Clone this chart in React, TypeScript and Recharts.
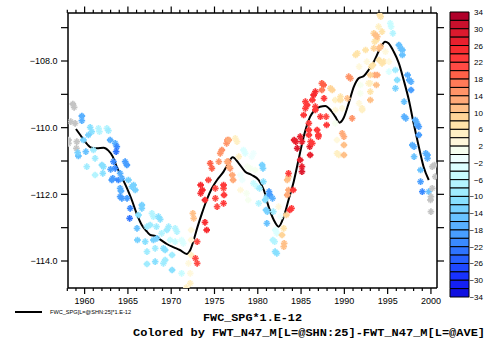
import React from 'react';
import { ComposedChart, Scatter, Line, XAxis, YAxis, ReferenceArea } from 'recharts';

// ---- smoothed series (black line) ----
const lineYears = [
  1959.0, 1959.5, 1960.05, 1960.7, 1961.4, 1962.2, 1962.75, 1963.25, 1963.7, 1964.3,
  1964.9, 1965.45, 1966.0, 1966.6, 1967.2, 1967.6, 1968.15, 1968.7, 1969.5, 1970.3,
  1971.0, 1971.8, 1972.2, 1972.6, 1973.05, 1973.55, 1974.1, 1974.7, 1975.3, 1976.05,
  1976.5, 1977.1, 1977.8, 1978.55, 1979.3, 1980.1, 1980.7, 1981.25, 1981.85, 1982.4,
  1983.0, 1983.55, 1984.15, 1984.7, 1985.3, 1986.05, 1986.6, 1987.2, 1987.8, 1988.4,
  1988.95, 1989.45, 1989.9, 1990.5, 1991.1, 1991.65, 1992.25, 1992.8, 1993.4, 1994.15,
  1994.7, 1995.1, 1995.7, 1996.3, 1996.85, 1997.45, 1998.0, 1998.6, 1999.15, 1999.75,
];
const lineValues = [
  -110.04, -110.22, -110.42, -110.59, -110.62, -110.6, -110.69, -110.87, -111.17, -111.49,
  -111.82, -112.17, -112.57, -112.92, -113.12, -113.22, -113.25, -113.35, -113.49, -113.59,
  -113.67, -113.79, -113.67, -113.37, -112.97, -112.57, -112.17, -111.82, -111.57, -111.32,
  -111.12, -110.89, -111.07, -111.32, -111.42, -111.57, -111.87, -112.37, -112.77, -112.97,
  -112.67, -112.17, -111.62, -110.97, -110.27, -109.67, -109.47, -109.37, -109.35, -109.47,
  -109.67, -109.85, -109.72, -109.27, -108.77, -108.52, -108.45, -108.27, -108.02, -107.62,
  -107.42, -107.47, -107.72, -108.07, -108.57, -109.17, -109.87, -110.57, -111.17, -111.57,
];

// ---- scattered points: [year, value, colour variable (null = missing)] ----
type Pt = [number, number, number | null];
const points1958to1967: Pt[] = [
  [1958.64, -109.29, null], [1958.79, -109.39, null], [1958.4, -109.82, null], [1958.9, -109.87, null],
  [1958.13, -110.37, null], [1958.13, -110.47, null], [1959.1, -110.42, null], [1959.05, -110.62, null],
  [1959.68, -109.65, -16], [1959.68, -109.79, -16], [1960.64, -109.99, -10], [1960.83, -110.12, -10],
  [1961.6, -110.02, -6], [1961.71, -110.12, -6], [1962.57, -110.02, -6], [1962.75, -110.09, -8],
  [1960.44, -110.22, -12], [1959.86, -110.37, -12], [1960.14, -110.72, -14], [1959.28, -110.85, -14],
  [1959.2, -110.75, -12], [1961.02, -110.67, -8], [1961.21, -110.92, -8], [1960.25, -111.17, -8],
  [1961.21, -111.42, -6], [1962.17, -111.17, -10], [1962.1, -111.37, -10], [1962.0, -111.12, -10],
  [1962.95, -110.37, -16], [1963.53, -110.47, -16], [1963.72, -110.57, -20], [1963.64, -110.72, -22],
  [1963.33, -111.02, -20], [1963.53, -111.22, -20], [1963.14, -111.57, -18], [1963.0, -111.25, -18],
  [1963.25, -111.52, -18], [1963.9, -111.57, -20], [1964.68, -111.02, -18], [1964.88, -111.12, -18],
  [1964.1, -111.37, -16], [1964.3, -111.52, -16], [1964.1, -111.82, -16], [1964.2, -111.9, -16],
  [1965.06, -111.57, -12], [1965.46, -111.77, -12], [1965.65, -111.72, -12], [1965.85, -111.87, -12],
  [1964.1, -112.07, -18], [1964.3, -112.12, -18], [1964.9, -112.12, -18], [1965.26, -112.42, -20],
  [1965.2, -112.72, -22], [1966.61, -112.32, -12], [1966.61, -112.42, -12], [1966.22, -112.62, -10],
  [1966.05, -113.02, -14], [1966.1, -113.37, -12], [1967.0, -113.42, -10], [1967.2, -113.72, -8],
  [1967.2, -114.09, -8],
];
const points1967to1976: Pt[] = [
  [1967.77, -112.57, -6], [1967.95, -112.67, -6], [1968.53, -112.67, -10], [1968.73, -112.75, -10],
  [1967.19, -112.97, -8], [1967.57, -112.92, -8], [1968.3, -112.97, -8], [1968.9, -113.17, -6],
  [1969.5, -113.07, -8], [1969.7, -112.97, -8], [1970.46, -113.02, -6], [1970.66, -113.12, -6],
  [1967.95, -113.37, -12], [1968.35, -113.32, -12], [1968.15, -113.62, -8], [1969.1, -113.62, -10],
  [1969.3, -113.67, -10], [1969.88, -113.37, -4], [1970.1, -113.82, -8], [1970.46, -113.42, -4],
  [1971.2, -113.37, -2], [1971.4, -113.47, -2], [1968.15, -114.02, -10], [1969.1, -114.07, -8],
  [1969.3, -113.97, -8], [1970.1, -114.27, -10], [1971.2, -114.37, -4], [1972.0, -114.07, 4],
  [1972.2, -114.37, 4], [1972.2, -114.67, 6], [1971.75, -114.8, 6], [1972.3, -113.82, 6],
  [1972.5, -112.57, 12], [1972.6, -112.72, 12], [1972.3, -113.07, 4], [1972.3, -113.37, 4],
  [1973.0, -113.42, 22], [1972.8, -113.92, 22], [1973.0, -114.07, 22], [1973.4, -111.72, 26],
  [1973.6, -111.87, 26], [1973.4, -111.97, 26], [1973.9, -112.17, 26], [1973.9, -112.84, 26],
  [1974.1, -113.07, 26], [1974.3, -111.57, 22], [1974.5, -111.07, 20], [1974.7, -111.22, 20],
  [1975.1, -111.82, 22], [1975.1, -112.12, 22], [1975.3, -112.37, 22], [1975.5, -111.02, 16],
  [1975.66, -110.77, 16], [1975.85, -110.67, 16], [1976.05, -111.82, 22], [1976.4, -110.47, 16],
  [1976.5, -110.37, 16], [1976.6, -111.02, 16], [1976.8, -111.22, 16],
];
const points1976to1986: Pt[] = [
  [1976.05, -111.72, 24], [1976.1, -112.02, 24], [1976.05, -112.27, 24], [1976.45, -111.02, 14],
  [1976.65, -111.17, 14], [1976.65, -110.37, 14], [1977.05, -111.42, 14], [1977.15, -111.57, 14],
  [1977.4, -110.32, 6], [1977.6, -110.42, 6], [1977.8, -110.87, 6], [1978.35, -110.67, -2],
  [1978.55, -110.77, -2], [1978.0, -111.42, 0], [1978.2, -111.57, 0], [1978.8, -111.17, 2],
  [1979.13, -111.22, 2], [1978.0, -111.87, 4], [1979.3, -110.87, 0], [1979.5, -110.77, 0],
  [1978.7, -111.97, 2], [1978.9, -112.17, 2], [1979.7, -111.27, 2], [1979.5, -111.67, -4],
  [1979.9, -111.77, -4], [1980.5, -111.12, -12], [1980.6, -111.22, -12], [1980.1, -112.27, -6],
  [1980.2, -111.82, -8], [1980.65, -111.62, -10], [1980.85, -112.17, -10], [1981.05, -112.07, -10],
  [1981.3, -111.92, -18], [1981.4, -112.02, -18], [1980.95, -112.47, -12], [1981.1, -112.52, -12],
  [1981.7, -112.12, -16], [1981.8, -112.52, -8], [1981.05, -112.87, -14], [1982.02, -113.07, -2],
  [1982.2, -113.17, -2], [1982.4, -112.37, 4], [1982.6, -112.67, 0], [1981.75, -113.37, -6],
  [1981.95, -113.42, -6], [1982.2, -113.77, -10], [1982.0, -113.72, -10], [1982.8, -113.22, 10],
  [1983.05, -113.47, 12], [1983.0, -113.57, 12], [1983.0, -113.02, 8], [1983.3, -112.62, 10],
  [1983.4, -112.02, 14], [1983.55, -111.87, 14], [1983.4, -111.57, 12], [1983.55, -111.47, 12],
  [1983.55, -111.37, 24], [1983.7, -112.47, 24], [1983.9, -112.42, 24], [1984.1, -111.87, 24],
  [1984.2, -110.37, 28], [1984.4, -110.42, 28], [1984.55, -110.62, 30], [1984.9, -110.27, 28],
  [1985.1, -110.42, 28], [1984.9, -110.97, 28], [1985.1, -111.17, 28], [1985.1, -111.32, 30],
  [1985.3, -109.62, 24], [1985.5, -109.22, 24], [1985.7, -109.32, 24], [1985.9, -110.07, 24],
  [1986.0, -110.57, 28], [1986.05, -110.82, 28],
];
const points1985to1994: Pt[] = [
  [1985.5, -109.42, 24], [1985.9, -109.87, 24], [1985.9, -110.22, 24], [1986.1, -110.42, 24],
  [1986.3, -110.47, 24], [1986.3, -109.17, 24], [1986.65, -108.92, 26], [1986.45, -109.02, 26],
  [1986.65, -109.37, 24], [1986.65, -109.47, 24], [1986.85, -110.07, 24], [1987.0, -110.22, 24],
  [1987.0, -110.27, 24], [1987.23, -109.67, 24], [1987.4, -108.67, 20], [1987.6, -108.72, 20],
  [1987.4, -108.87, 18], [1987.65, -109.12, 24], [1987.9, -109.67, 22], [1987.95, -109.92, 24],
  [1988.4, -108.82, 10], [1988.6, -108.87, 10], [1988.95, -109.17, 6], [1988.95, -109.47, 4],
  [1988.95, -109.87, 2], [1989.15, -110.37, 4], [1989.15, -110.77, 6], [1989.35, -110.82, 6],
  [1989.55, -109.07, 8], [1989.54, -109.17, 8], [1989.75, -109.42, 4], [1989.75, -110.17, 14],
  [1989.95, -110.27, 14], [1989.95, -110.52, 12], [1989.95, -110.82, 12], [1990.35, -109.12, 12],
  [1990.5, -108.47, 16], [1990.7, -108.52, 16], [1990.9, -109.72, 16], [1991.3, -107.82, 8],
  [1991.5, -107.77, 8], [1991.7, -108.17, 4], [1991.85, -108.72, 2], [1991.85, -108.97, 2],
  [1991.7, -109.27, 4], [1992.05, -109.42, 6], [1992.05, -109.47, 6], [1992.45, -107.67, 8],
  [1992.6, -108.02, 4], [1992.8, -108.67, 6], [1993.0, -108.67, 6], [1993.3, -108.12, 8],
  [1993.1, -108.17, 8], [1993.4, -107.17, 10], [1993.5, -107.42, 8], [1993.7, -107.37, 8],
  [1993.5, -108.42, 14], [1993.8, -108.42, 14], [1993.7, -108.72, 12], [1993.0, -108.92, 8],
  [1993.0, -109.17, 12],
];
const points1993to2000: Pt[] = [
  [1994.2, -106.67, 8], [1994.1, -106.62, 8], [1993.95, -106.97, 6], [1994.35, -107.12, 8],
  [1995.3, -106.87, -4], [1995.4, -106.97, -4], [1995.6, -107.17, -6], [1993.6, -107.22, 12],
  [1993.8, -107.27, 12], [1993.4, -107.62, 10], [1994.2, -107.57, 12], [1994.0, -107.62, 12],
  [1994.75, -107.72, 4], [1994.0, -107.97, 8], [1994.55, -108.02, 8], [1994.35, -108.07, 8],
  [1995.15, -108.02, 4], [1995.15, -108.32, -2], [1993.0, -108.42, 10], [1996.3, -107.52, -14],
  [1996.5, -107.62, -14], [1996.7, -107.67, -14], [1996.7, -107.82, -14], [1995.9, -108.27, -8],
  [1996.1, -108.57, -10], [1995.9, -108.82, -12], [1997.3, -108.42, -16], [1997.5, -108.57, -16],
  [1997.7, -108.62, -16], [1997.7, -108.87, -18], [1996.9, -109.22, -14], [1996.9, -109.67, -16],
  [1997.1, -109.72, -16], [1998.2, -109.77, -16], [1998.4, -109.87, -16], [1998.4, -109.92, -16],
  [1998.6, -109.97, -18], [1998.6, -110.22, -18], [1997.85, -110.52, -16], [1998.05, -110.57, -16],
  [1998.05, -110.87, -14], [1999.4, -110.77, -16], [1999.6, -110.82, -16], [1999.6, -110.92, -16],
  [1998.8, -111.27, -14], [1998.8, -111.62, -18], [1999.0, -111.92, -20], [1999.75, -111.92, -14],
  [2000.15, -111.17, null], [2000.4, -111.12, null], [2000.5, -111.47, null], [2000.0, -112.07, null],
  [1999.95, -112.17, null], [2000.15, -111.82, null], [2000.0, -112.52, null],
];

// ---- axes ----
const yearTicks = [
  1958, 1959, 1960, 1961, 1962, 1963, 1964, 1965, 1966, 1967, 1968, 1969, 1970, 1971, 1972,
  1973, 1974, 1975, 1976, 1977, 1978, 1979, 1980, 1981, 1982, 1983, 1984, 1985, 1986, 1987,
  1988, 1989, 1990, 1991, 1992, 1993, 1994, 1995, 1996, 1997, 1998, 1999, 2000,
];
const valueTicks = [-107, -108, -109, -110, -111, -112, -113, -114];

// ---- colour bar ----
const colorbarTops = [
  34, 32, 30, 28, 26, 24, 22, 20, 18, 16, 14, 12, 10, 8, 6, 4, 2,
  0, -2, -4, -6, -8, -10, -12, -14, -16, -18, -20, -22, -24, -26, -28, -30, -32,
];
const colorbarColors = [
  '#b0002a', '#c8102c', '#dc1a2e', '#e8202e', '#f82c30', '#ff3a3a', '#ff4a44', '#ff6048',
  '#ff7a58', '#ff9468', '#ffaa78', '#ffc088', '#ffd498', '#ffe4aa', '#fff0c4', '#fff8dc',
  '#f6fff0', '#eefffe', '#dcffff', '#c8fcff', '#b4f4ff', '#a0ecff', '#88e0ff', '#78d2ff',
  '#68c2ff', '#58b0ff', '#489eff', '#3a8aff', '#2e74ff', '#2660ff', '#1e48ff', '#1832ff',
  '#1420f4', '#1010e0',
];
const colorbarTicks = [34, 30, 26, 22, 18, 14, 10, 6, 2, -2, -6, -10, -14, -18, -22, -26, -30, -34];

const X_DOMAIN: [number, number] = [1958.08, 2000.7];
const Y_DOMAIN: [number, number] = [-114.81, -106.56];
const FONT = '"Liberation Sans", Arial, Helvetica, sans-serif';
const MONO = '"Liberation Mono", "Courier New", monospace';

function anomalyColor(c: number | null): string {
  if (c === null) return '#c4c4c4';
  let i = Math.floor((34 - c) / 2);
  if (i < 0) i = 0;
  if (i > 33) i = 33;
  return colorbarColors[i];
}

const lineData = lineYears.map((x, i) => ({ x, y: lineValues[i] }));
const scatterData = [
  ...points1958to1967,
  ...points1967to1976,
  ...points1976to1986,
  ...points1985to1994,
  ...points1993to2000,
].map(([x, y, c]) => ({ x, y, c }));

const fmtMinus = (v: number, digits: number) =>
  (v < 0 ? '\u2212' : '') + Math.abs(v).toFixed(digits);

const StarMarker = (props: any) => {
  const { cx, cy, payload } = props;
  if (cx == null || cy == null) return null;
  const col = anomalyColor(payload.c);
  return (
    <g stroke={col} strokeLinecap="square">
      <path d={`M${cx - 2.4},${cy}H${cx + 2.4}M${cx},${cy - 2.4}V${cy + 2.4}`} strokeWidth={1.8} />
      <path d={`M${cx - 1.8},${cy - 1.8}L${cx + 1.8},${cy + 1.8}M${cx - 1.8},${cy + 1.8}L${cx + 1.8},${cy - 1.8}`} strokeWidth={1.3} />
    </g>
  );
};

const BottomTick = (props: any) => {
  const { x, y, payload } = props;
  const v = payload.value;
  const major = v % 5 === 0;
  return (
    <g>
      <line x1={x} x2={x} y1={y} y2={y + (major ? 6 : 3)} stroke="#000" strokeWidth={1.2} />
      {major && (
        <text x={x} y={y + 16} textAnchor="middle" fontSize={9} fontFamily={FONT} fill="#000">
          {v}
        </text>
      )}
    </g>
  );
};

const TopTick = (props: any) => {
  const { x, y, payload } = props;
  const major = payload.value % 5 === 0;
  return <line x1={x} x2={x} y1={y} y2={y - (major ? 6.5 : 3.3)} stroke="#000" strokeWidth={1.2} />;
};

const LeftTick = (props: any) => {
  const { x, y, payload } = props;
  const v = payload.value;
  const labelled = v % 2 === 0;
  return (
    <g>
      <line x1={x - 7} x2={x} y1={y} y2={y} stroke="#000" strokeWidth={1.2} />
      {labelled && (
        <text x={x - 10.5} y={y + 3.2} textAnchor="end" fontSize={9} fontFamily={FONT} fill="#000">
          {fmtMinus(v, 1)}
        </text>
      )}
    </g>
  );
};

const RightTick = (props: any) => {
  const { x, y } = props;
  return <line x1={x} x2={x + 7} y1={y} y2={y} stroke="#000" strokeWidth={1.2} />;
};

const ColorbarTick = (props: any) => {
  const { x, y, payload } = props;
  return (
    <text x={x + 14} y={y + 3} textAnchor="end" fontSize={8} fontFamily={FONT} fill="#000">
      {fmtMinus(payload.value, 0)}
    </text>
  );
};

export default function App() {
  const axisLine = { stroke: '#000', strokeWidth: 1.5 };
  return (
    <div style={{ position: 'absolute', left: 0, top: 0, width: 486, height: 343, background: '#fff' }}>
      <div style={{ position: 'absolute', left: 0, top: 0 }}>
        <ComposedChart
          width={486}
          height={343}
          margin={{ top: 5, right: 42, bottom: 25, left: 8 }}
        >
          <XAxis
            xAxisId="bottom"
            type="number"
            dataKey="x"
            domain={X_DOMAIN}
            allowDataOverflow
            ticks={yearTicks}
            interval={0}
            height={30}
            tickSize={0}
            tickMargin={0}
            tickLine={false}
            axisLine={axisLine}
            tick={<BottomTick />}
          />
          <XAxis
            xAxisId="top"
            orientation="top"
            type="number"
            dataKey="x"
            domain={X_DOMAIN}
            allowDataOverflow
            ticks={yearTicks}
            interval={0}
            height={8}
            tickSize={0}
            tickMargin={0}
            tickLine={false}
            axisLine={axisLine}
            tick={<TopTick />}
          />
          <YAxis
            yAxisId="left"
            type="number"
            dataKey="y"
            domain={Y_DOMAIN}
            allowDataOverflow
            ticks={valueTicks}
            interval={0}
            width={60}
            tickSize={0}
            tickMargin={0}
            tickLine={false}
            axisLine={axisLine}
            tick={<LeftTick />}
          />
          <YAxis
            yAxisId="right"
            orientation="right"
            type="number"
            dataKey="y"
            domain={Y_DOMAIN}
            allowDataOverflow
            ticks={valueTicks}
            interval={0}
            width={7}
            tickSize={0}
            tickMargin={0}
            tickLine={false}
            axisLine={axisLine}
            tick={<RightTick />}
          />
          <Scatter
            xAxisId="bottom"
            yAxisId="left"
            data={scatterData}
            shape={<StarMarker />}
            isAnimationActive={false}
          />
          <Line
            xAxisId="bottom"
            yAxisId="left"
            data={lineData}
            dataKey="y"
            type="monotone"
            stroke="#000"
            strokeWidth={2}
            dot={false}
            isAnimationActive={false}
          />
          <Line
            xAxisId="top"
            yAxisId="right"
            data={lineData}
            dataKey="y"
            stroke="none"
            strokeOpacity={0}
            dot={false}
            activeDot={false}
            isAnimationActive={false}
          />
        </ComposedChart>
      </div>

      <div style={{ position: 'absolute', left: 440, top: 0 }}>
        <ComposedChart
          width={46}
          height={343}
          margin={{ top: 12, right: 0, bottom: 46, left: 10 }}
          data={[{ x: 0, y: 0 }, { x: 1, y: 0 }]}
        >
          <XAxis type="number" dataKey="x" domain={[0, 1]} hide allowDataOverflow />
          <YAxis
            orientation="right"
            type="number"
            dataKey="y"
            domain={[-34, 34]}
            allowDataOverflow
            ticks={colorbarTicks}
            interval={0}
            width={17}
            tickSize={0}
            tickMargin={0}
            tickLine={false}
            axisLine={false}
            tick={<ColorbarTick />}
          />
          {colorbarTops.map((top, i) => (
            <ReferenceArea
              key={top}
              x1={0}
              x2={1}
              y1={top - 2}
              y2={top}
              fill={colorbarColors[i]}
              fillOpacity={1}
              stroke="#000"
              strokeWidth={1}
              ifOverflow="visible"
            />
          ))}
          <Line dataKey="y" stroke="none" dot={false} activeDot={false} isAnimationActive={false} />
        </ComposedChart>
      </div>

      <svg
        width={486}
        height={343}
        style={{ position: 'absolute', left: 0, top: 0, pointerEvents: 'none' }}
      >
        <line x1={15} x2={42} y1={312} y2={312} stroke="#000" strokeWidth={2} />
        <text x={50} y={314} fontSize={5.5} fontFamily={FONT} textLength={81} lengthAdjust="spacingAndGlyphs">
          FWC_SPG[L=@SHN:25]*1.E-12
        </text>
        <text
          x={203}
          y={321}
          fontSize={11.8}
          fontFamily={MONO}
          fontWeight="bold"
          textLength={99}
          lengthAdjust="spacingAndGlyphs"
        >
          FWC_SPG*1.E-12
        </text>
        <text
          x={133}
          y={336}
          fontSize={11.8}
          fontFamily={MONO}
          fontWeight="bold"
          textLength={352}
          lengthAdjust="spacingAndGlyphs"
        >
          Colored by FWT_N47_M[L=@SHN:25]-FWT_N47_M[L=@AVE]
        </text>
      </svg>
    </div>
  );
}
